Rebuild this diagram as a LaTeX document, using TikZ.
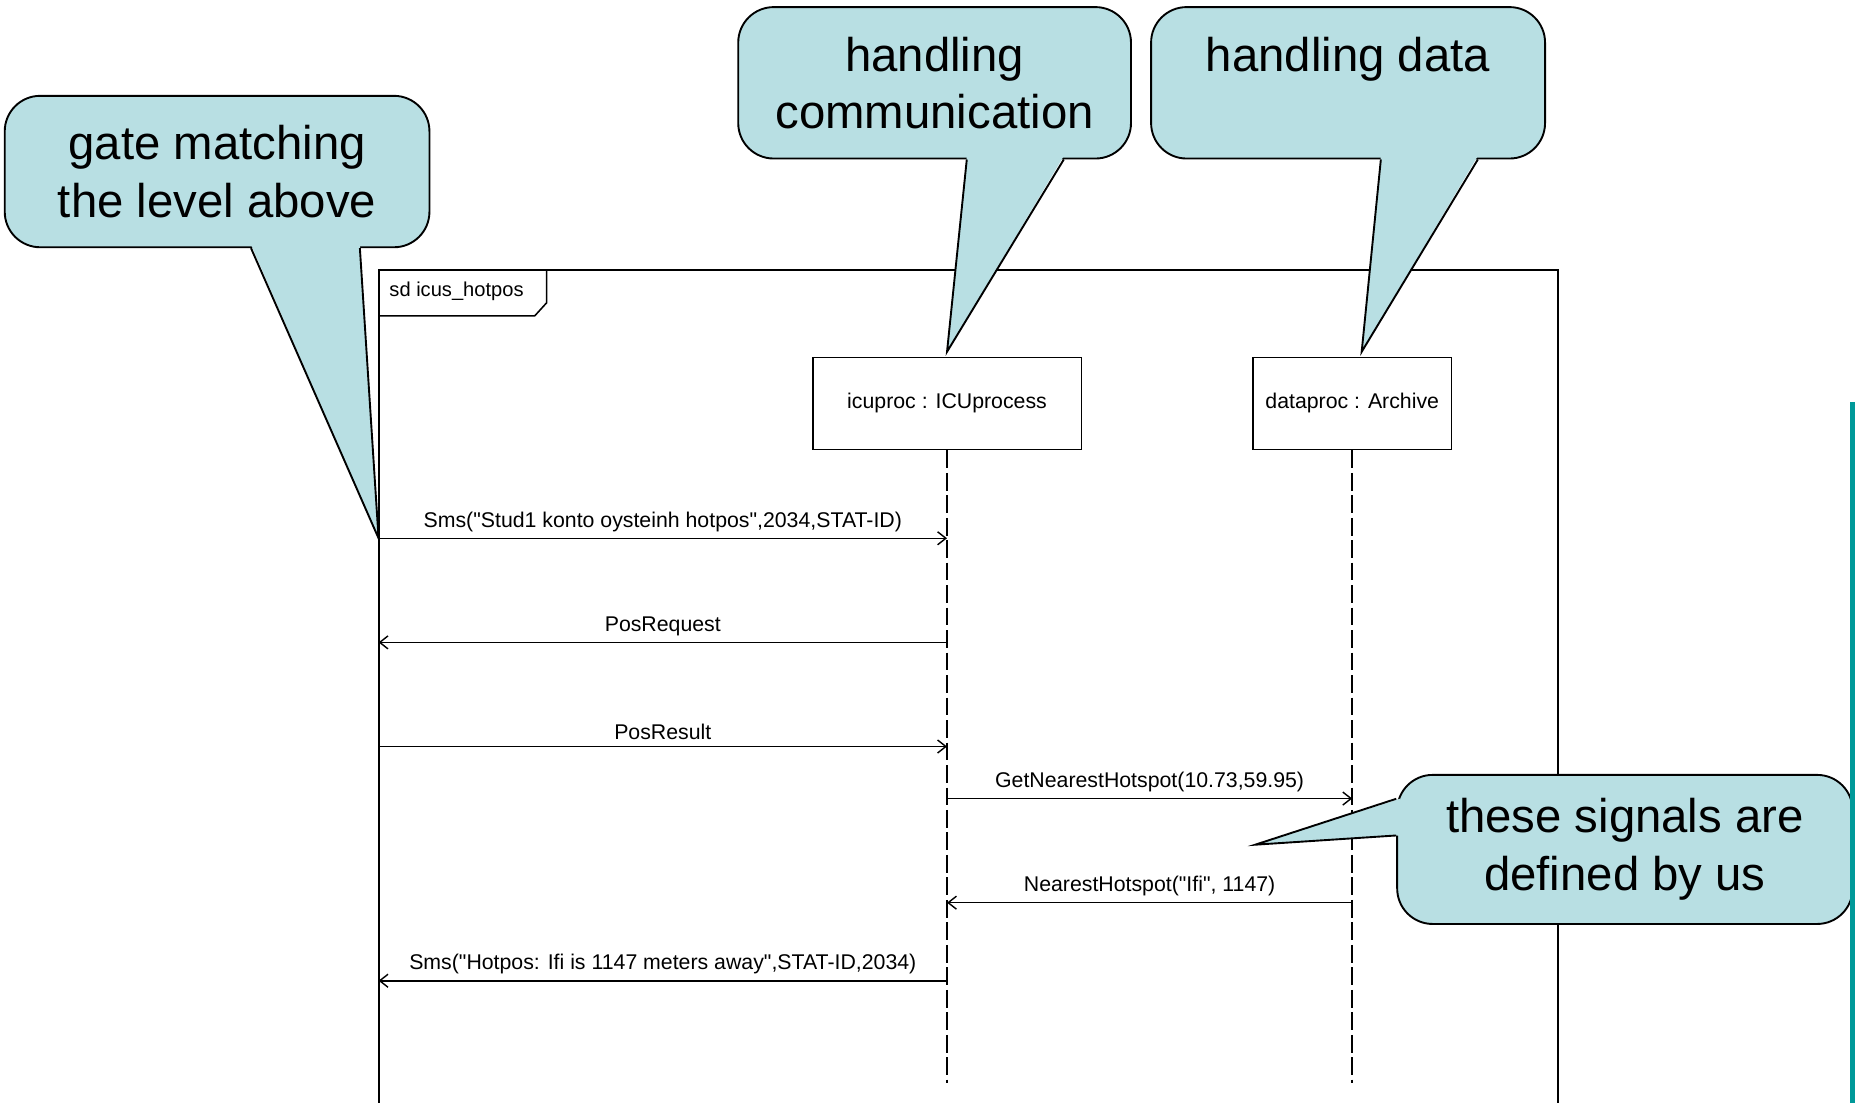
\documentclass[tikz,border=0pt]{standalone}
\usepackage{fontspec}
\setmainfont{Liberation Sans}
\usetikzlibrary{arrows.meta,calc}
\definecolor{bubblefill}{RGB}{184,223,227}
\definecolor{rail}{RGB}{0,153,153}
\newcommand{\dq}{\textquotedbl}
\begin{document}
\begin{tikzpicture}[x=1pt,y=-1pt,
  bubble/.style={draw=black, line width=1.6pt, fill=bubblefill, rounded corners=30pt,
    align=center, font=\fontsize{40}{48.5}\selectfont, inner sep=0pt},
  pointer/.style={line width=1.6pt},
  lifebox/.style={draw=black, line width=1.3pt, fill=white,
    font=\fontsize{18}{21}\selectfont, inner sep=0pt},
  lifeline/.style={line width=1.3pt, dash pattern=on 15pt off 4pt},
  msg/.style={line width=1.3pt, -{Straight Barb[length=7pt,width=11pt,line width=1.2pt]}},
  lbl/.style={font=\fontsize{18}{21}\selectfont, above, inner sep=0pt, yshift=5pt}
]
\useasboundingbox (0,0) rectangle (1568,932);
\fill[white] (0,0) rectangle (1568,932);

% interaction frame and its name tab
\draw[line width=1.8pt] (320,950) -- (320,228) -- (1317,228) -- (1317,950);
\draw[line width=1.3pt] (462,228) -- (462,256) -- (452,267) -- (320,267);
\node[font=\fontsize{17}{20}\selectfont, anchor=west, inner sep=0pt] (sd) at (329,246) {sd icus\_hotpos};

% lifelines
\node[lifebox, minimum width=227pt, minimum height=78pt] (icu) at (800.5,341) {icuproc : ICUprocess};
\node[lifebox, minimum width=168pt, minimum height=78pt] (arc) at (1143,341) {dataproc : Archive};
\coordinate (icuend) at ($(icu.south)+(0,535)$);
\coordinate (arcend) at ($(arc.south)+(0,535)$);
\draw[lifeline] (icu.south) -- (icuend);
\draw[lifeline] (arc.south) -- (arcend);

% gates on the frame border
\coordinate (g1) at (320,455);
\coordinate (g2) at (320,543);
\coordinate (g3) at (320,631);
\coordinate (g6) at (320,829);
\coordinate (y4) at (0,675);
\coordinate (y5) at (0,763);

% messages
\draw[msg] (g1) -- node[lbl]{Sms(\dq Stud1 konto oysteinh hotpos\dq,2034,STAT-ID)} (g1 -| icu);
\draw[msg] (g2 -| icu) -- node[lbl]{PosRequest} (g2);
\draw[msg] (g3) -- node[lbl]{PosResult} (g3 -| icu);
\draw[msg] (y4 -| icu) -- node[lbl]{GetNearestHotspot(10.73,59.95)} (y4 -| arc);
\draw[msg] (y5 -| arc) -- node[lbl]{NearestHotspot(\dq Ifi\dq, 1147)} (y5 -| icu);
\draw[msg] (g6 -| icu) -- node[lbl]{Sms(\dq Hotpos: Ifi is 1147 meters away\dq,STAT-ID,2034)} (g6);

% callouts
\node[bubble, minimum width=359pt, minimum height=128pt] (c1) at (183.5,145) {gate matching\\the level above};
\fill[bubblefill] ($(c1.south west)+(209,-3)$) -- (g1) -- ($(c1.south west)+(301,-3)$) -- cycle;
\draw[pointer] ($(c1.south west)+(209,0)$) -- (g1) -- ($(c1.south west)+(301,0)$);

\node[bubble, minimum width=332pt, minimum height=128pt] (c2) at (790,70) {handling\\communication};
\coordinate (t2) at ($(icu.north)+(0,-4)$);
\fill[bubblefill] ($(c2.south west)+(194,-3)$) -- (t2) -- ($(c2.south west)+(276,-3)$) -- cycle;
\draw[pointer] ($(c2.south west)+(194,0)$) -- (t2) -- ($(c2.south west)+(276,0)$);

\node[bubble, minimum width=333pt, minimum height=128pt] (c3) at (1139.5,70) {handling data\\\mbox{}};
\coordinate (t3) at ($(arc.north)+(8,-4)$);
\fill[bubblefill] ($(c3.south west)+(195,-3)$) -- (t3) -- ($(c3.south west)+(277,-3)$) -- cycle;
\draw[pointer] ($(c3.south west)+(195,0)$) -- (t3) -- ($(c3.south west)+(277,0)$);

\node[bubble, minimum width=385pt, minimum height=126pt] (c4) at (1373.5,718) {these signals are\\defined by us};
\coordinate (t4) at (1061,714);
\fill[bubblefill] ($(c4.north west)+(3,21)$) -- (t4) -- ($(c4.north west)+(3,52)$) -- cycle;
\draw[pointer] ($(c4.north west)+(0,21)$) -- (t4) -- ($(c4.north west)+(0,52)$);

% slide edge rule
\fill[rail] (1563.5,340) rectangle (1568,932);
\end{tikzpicture}
\end{document}
